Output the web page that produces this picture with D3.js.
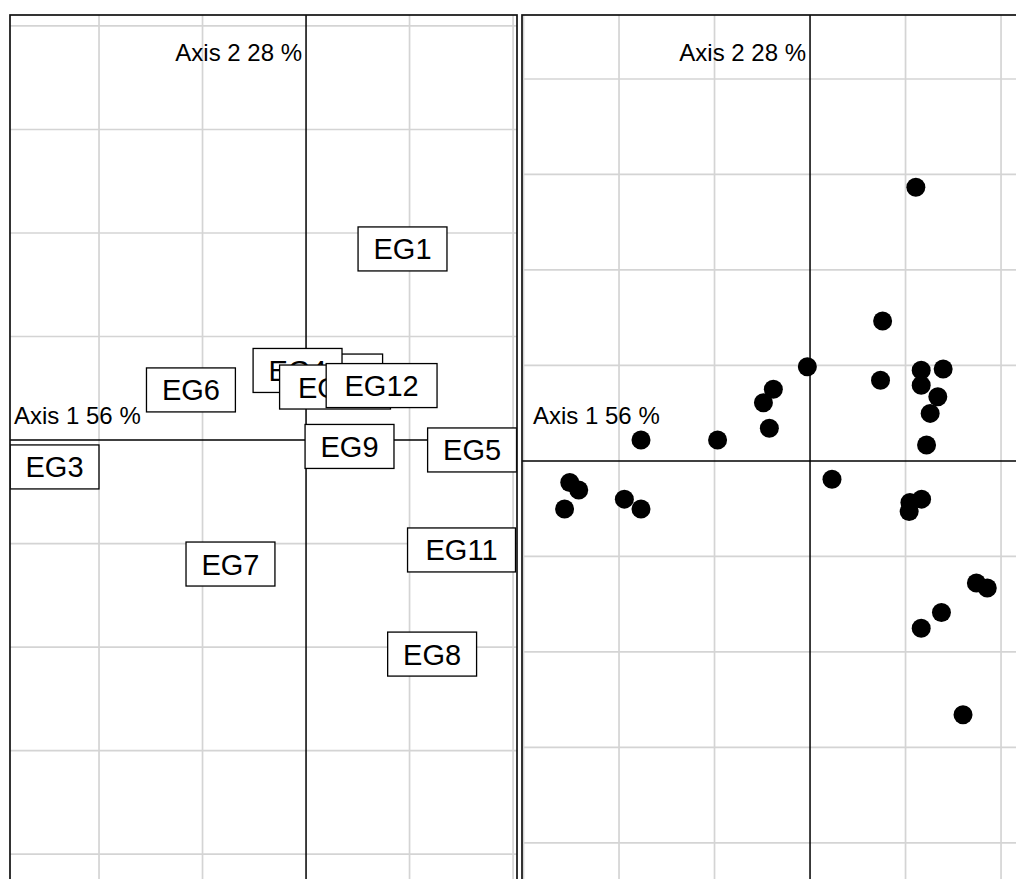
<!DOCTYPE html>
<html>
<head>
<meta charset="utf-8">
<script src="https://cdn.jsdelivr.net/npm/d3@7"></script>
<style>
  html, body { margin: 0; padding: 0; background: #fff; }
  svg { display: block; font-family: "Liberation Sans", Arial, Helvetica, sans-serif; }
</style>
</head>
<body>
<svg id="chart" width="1016" height="879"></svg>
<script>
// Column scores (labels) on the first two axes
const colLabels = ["EG1", "EG2", "EG3", "EG4", "EG5", "EG6", "EG7", "EG8", "EG9", "EG10", "EG11", "EG12"];
const colAxis1 = [0.466, 0.155, -1.215, -0.041, 0.802, -0.556, -0.365, 0.609, 0.210, 0.140, 0.751, 0.365];
const colAxis2 = [0.923, 0.309, -0.130, 0.336, -0.048, 0.242, -0.599, -1.034, -0.031, 0.256, -0.531, 0.263];

// Row scores (points) on the first two axes
const rowAxis1 = [-1.258, -1.211, -1.285, -0.972, -0.885, -0.885, -0.484, -0.244, -0.192, -0.213,
                  -0.014, 0.554, 0.380, 0.369, 0.582, 0.697, 0.582, 0.669, 0.629, 0.610,
                  0.115, 0.523, 0.584, 0.519, 0.871, 0.928, 0.688, 0.582, 0.801];
const rowAxis2 = [-0.113, -0.152, -0.252, -0.200, -0.252, 0.110, 0.110, 0.305, 0.375, 0.171,
                  0.493, 1.433, 0.733, 0.423, 0.475, 0.481, 0.396, 0.336, 0.249, 0.084,
                  -0.096, -0.218, -0.200, -0.265, -0.639, -0.665, -0.793, -0.876, -1.329];

const axisTitles = ["Axis 1 56 %", "Axis 2 28 %"];
const gridStep = 0.5;

const svg = d3.select("#chart");

// Panel geometry (pixels) and visible data windows
const panels = [
  { id: "cols", x0: 10, x1: 517, y0: 15, y1: 905, xDom: [-1.430, 1.019], yDom: [2.053, -2.246], titlePad: 4 },
  { id: "rows", x0: 522, x1: 1040, y0: 15, y1: 905, xDom: [-1.508, 1.204], yDom: [2.335, -2.325], titlePad: 11 }
];

function gridValues(dom) {
  const lo = Math.min(dom[0], dom[1]), hi = Math.max(dom[0], dom[1]);
  return d3.range(Math.ceil(lo / gridStep), Math.floor(hi / gridStep) + 1)
    .map(k => k * gridStep).filter(v => v !== 0);
}

function drawPanel(p) {
  const x = d3.scaleLinear().domain(p.xDom).range([p.x0, p.x1]);
  const y = d3.scaleLinear().domain(p.yDom).range([p.y0, p.y1]);

  svg.append("clipPath").attr("id", "clip-" + p.id)
    .append("rect").attr("x", p.x0).attr("y", p.y0)
    .attr("width", p.x1 - p.x0).attr("height", p.y1 - p.y0);

  const g = svg.append("g").attr("clip-path", `url(#clip-${p.id})`);

  // light grid
  g.append("g").selectAll("line.gx").data(gridValues(p.xDom)).join("line")
    .attr("x1", d => x(d)).attr("x2", d => x(d))
    .attr("y1", p.y0).attr("y2", p.y1)
    .attr("stroke", "#d4d4d4").attr("stroke-width", 1.7);
  g.append("g").selectAll("line.gy").data(gridValues(p.yDom)).join("line")
    .attr("y1", d => y(d)).attr("y2", d => y(d))
    .attr("x1", p.x0).attr("x2", p.x1)
    .attr("stroke", "#d4d4d4").attr("stroke-width", 1.7);

  // origin axes
  g.append("line").attr("x1", p.x0).attr("x2", p.x1)
    .attr("y1", y(0)).attr("y2", y(0)).attr("stroke", "#000").attr("stroke-width", 1.5);
  g.append("line").attr("y1", p.y0).attr("y2", p.y1)
    .attr("x1", x(0)).attr("x2", x(0)).attr("stroke", "#000").attr("stroke-width", 1.5);

  // axis titles
  g.append("text").attr("x", p.x0 + p.titlePad).attr("y", 424)
    .attr("font-size", 24).attr("fill", "#000").text(axisTitles[0]);
  g.append("text").attr("x", x(0) - 4).attr("y", 61)
    .attr("text-anchor", "end").attr("font-size", 24).attr("fill", "#000").text(axisTitles[1]);

  return { g, x, y };
}

function drawFrame(p) {
  svg.append("rect").attr("x", p.x0).attr("y", p.y0)
    .attr("width", p.x1 - p.x0).attr("height", p.y1 - p.y0)
    .attr("fill", "none").attr("stroke", "#111").attr("stroke-width", 1.7);
}

// Left panel: boxed labels
const L = drawPanel(panels[0]);
const labelSize = 29;
const labels = L.g.append("g").selectAll("g").data(colLabels).join("g")
  .attr("transform", (d, i) => `translate(${L.x(colAxis1[i])},${L.y(colAxis2[i])})`);
labels.each(function (d) {
  const grp = d3.select(this);
  const rect = grp.append("rect");
  const txt = grp.append("text").attr("text-anchor", "middle").attr("y", 10.5)
    .attr("font-size", labelSize).attr("fill", "#000").text(d);
  const tw = txt.node().getComputedTextLength();
  const w = tw * 1.36 + 10, h = 44;
  rect.attr("x", -w / 2).attr("y", -h / 2).attr("width", w).attr("height", h)
    .attr("fill", "#fff").attr("stroke", "#000").attr("stroke-width", 1.3);
});
drawFrame(panels[0]);

// Right panel: points
const R = drawPanel(panels[1]);
R.g.append("g").selectAll("circle").data(rowAxis1).join("circle")
  .attr("cx", (d, i) => R.x(d)).attr("cy", (d, i) => R.y(rowAxis2[i]))
  .attr("r", 9.5).attr("fill", "#000");
drawFrame(panels[1]);
</script>
</body>
</html>
